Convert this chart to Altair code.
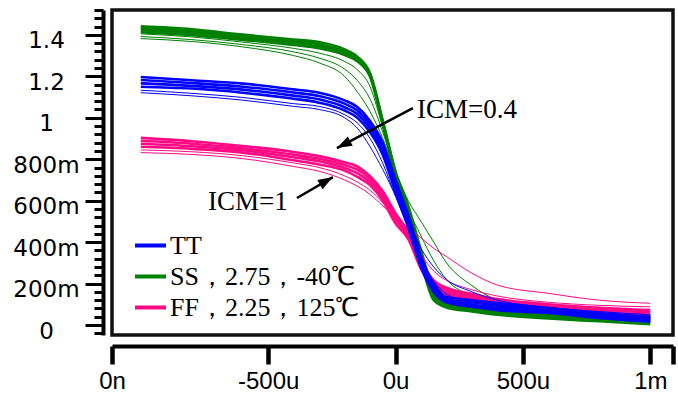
import altair as alt
import pandas as pd

# ---------------- data ----------------
X_U = [-1000, -800, -600, -400, -300, -200, -150, -100, -50, 0, 50, 100, 150, 200, 300, 400, 600, 800, 1000]

SERIES = ["TT", "SS，2.75，-40℃", "FF，2.25，125℃"]
COLORS = ["#0000ff", "#008000", "#ff0a84"]

# SS corner
SS_BAND = [
    [1.441, 1.427, 1.401, 1.378, 1.365, 1.330, 1.295, 1.215, 0.985, 0.740, 0.575, 0.360, 0.170, 0.115, 0.096, 0.082, 0.064, 0.050, 0.040],
    [1.432, 1.418, 1.393, 1.369, 1.355, 1.320, 1.288, 1.210, 0.980, 0.735, 0.545, 0.335, 0.150, 0.100, 0.085, 0.070, 0.052, 0.038, 0.028],
    [1.423, 1.409, 1.385, 1.360, 1.345, 1.312, 1.282, 1.205, 0.975, 0.728, 0.520, 0.315, 0.135, 0.092, 0.075, 0.060, 0.042, 0.028, 0.016],
    [1.413, 1.399, 1.376, 1.351, 1.335, 1.303, 1.273, 1.198, 0.968, 0.720, 0.500, 0.300, 0.120, 0.085, 0.066, 0.050, 0.032, 0.018, 0.004],
]
SS_SPREAD = [
    [1.405, 1.390, 1.365, 1.335, 1.312, 1.272, 1.232, 1.150, 0.950, 0.720, 0.525, 0.340, 0.190, 0.130, 0.090, 0.072, 0.055, 0.044, 0.035],
    [1.392, 1.377, 1.353, 1.318, 1.288, 1.235, 1.180, 1.090, 0.930, 0.735, 0.560, 0.430, 0.310, 0.220, 0.140, 0.100, 0.065, 0.052, 0.043],
    [1.382, 1.368, 1.342, 1.300, 1.265, 1.200, 1.125, 1.030, 0.900, 0.740, 0.600, 0.500, 0.400, 0.300, 0.190, 0.120, 0.075, 0.058, 0.047],
]

# TT corner
TT_BAND = [
    [1.197, 1.181, 1.165, 1.137, 1.121, 1.084, 1.052, 0.985, 0.880, 0.700, 0.530, 0.330, 0.200, 0.135, 0.120, 0.106, 0.082, 0.058, 0.040],
    [1.182, 1.168, 1.150, 1.122, 1.105, 1.068, 1.035, 0.968, 0.860, 0.680, 0.510, 0.312, 0.185, 0.125, 0.110, 0.095, 0.074, 0.050, 0.032],
    [1.166, 1.154, 1.136, 1.107, 1.089, 1.051, 1.018, 0.950, 0.840, 0.660, 0.490, 0.295, 0.172, 0.117, 0.099, 0.083, 0.066, 0.042, 0.024],
    [1.150, 1.141, 1.121, 1.092, 1.073, 1.035, 1.000, 0.930, 0.820, 0.640, 0.470, 0.280, 0.160, 0.110, 0.088, 0.072, 0.058, 0.034, 0.016],
]
TT_SPREAD = [
    [1.133, 1.118, 1.098, 1.068, 1.055, 1.015, 0.975, 0.900, 0.780, 0.620, 0.470, 0.310, 0.210, 0.150, 0.110, 0.090, 0.068, 0.048, 0.032],
    [1.121, 1.106, 1.085, 1.055, 1.040, 1.000, 0.950, 0.860, 0.750, 0.625, 0.500, 0.370, 0.280, 0.220, 0.160, 0.120, 0.085, 0.065, 0.050],
]

# FF corner
FF_BAND = [
    [0.903, 0.887, 0.864, 0.835, 0.815, 0.785, 0.765, 0.718, 0.645, 0.540, 0.450, 0.310, 0.215, 0.180, 0.150, 0.125, 0.100, 0.083, 0.072],
    [0.889, 0.875, 0.853, 0.822, 0.802, 0.772, 0.750, 0.705, 0.630, 0.525, 0.437, 0.295, 0.203, 0.168, 0.140, 0.115, 0.090, 0.072, 0.062],
    [0.875, 0.863, 0.843, 0.810, 0.790, 0.758, 0.733, 0.690, 0.615, 0.510, 0.425, 0.282, 0.188, 0.156, 0.130, 0.105, 0.080, 0.060, 0.051],
    [0.860, 0.850, 0.832, 0.795, 0.775, 0.745, 0.715, 0.675, 0.600, 0.490, 0.415, 0.270, 0.175, 0.145, 0.120, 0.096, 0.069, 0.048, 0.040],
]
FF_SPREAD = [
    [0.845, 0.836, 0.817, 0.782, 0.760, 0.720, 0.690, 0.650, 0.590, 0.510, 0.440, 0.340, 0.260, 0.215, 0.170, 0.140, 0.110, 0.095, 0.088],
    [0.832, 0.823, 0.803, 0.765, 0.742, 0.700, 0.670, 0.630, 0.575, 0.520, 0.470, 0.420, 0.370, 0.330, 0.250, 0.193, 0.153, 0.120, 0.105],
]

# axis ticks and labels
X_TICK_VALUES = [-1113, -500, 0, 500, 1000, 1089]
X_TICK_LABELS = ["0n", "-500u", "0u", "500u", "1m", ""]
Y_TICK_VALUES = [0, 0.2, 0.4, 0.6, 0.8, 1.0, 1.2, 1.4]
Y_TICK_LABELS = ["0", "200m", "400m", "600m", "800m", "1", "1.2", "1.4"]
Y_MINOR = [round(-0.04 + 0.04 * i, 2) for i in range(40)]

# annotations
ANN_TEXT = ["ICM=0.4", "ICM=1"]
ANN_TEXT_U = [84, -736]
ANN_TEXT_V = [0.999, 0.555]
ARROW_TAIL_U = [68, -387]
ARROW_TAIL_V = [1.047, 0.613]
ARROW_TIP_U = [-230, -246]
ARROW_TIP_V = [0.854, 0.714]
ARROW_ANGLE = [242.5, 59.7]

# ---------------- build table ----------------
groups = {
    SERIES[0]: (TT_BAND, TT_SPREAD),
    SERIES[1]: (SS_BAND, SS_SPREAD),
    SERIES[2]: (FF_BAND, FF_SPREAD),
}
rows = []
for s, (band, spread) in groups.items():
    for kind, lines in (("band", band), ("spread", spread)):
        for i, vals in enumerate(lines):
            for u, v in zip(X_U, vals):
                rows.append({"series": s, "kind": kind, "line": f"{s}-{kind}-{i}", "u": u, "v": v})
df = pd.DataFrame(rows)

ann = pd.DataFrame({"text": ANN_TEXT, "u": ANN_TEXT_U, "v": ANN_TEXT_V})
arrows = pd.DataFrame({
    "u": ARROW_TAIL_U, "v": ARROW_TAIL_V,
    "u2": ARROW_TIP_U, "v2": ARROW_TIP_V,
})


def label_expr(values, labels, tol):
    parts = []
    for val, lab in zip(values, labels):
        parts.append(f"abs(datum.value - ({val})) < {tol} ? '{lab}' : ")
    return "".join(parts) + "''"


x_scale = alt.Scale(domain=[-1113, 1089], nice=False, zero=False)
y_scale = alt.Scale(domain=[-0.048, 1.52], nice=False, zero=False)

x_axis = alt.Axis(
    values=X_TICK_VALUES,
    labelExpr=label_expr(X_TICK_VALUES, X_TICK_LABELS, 1),
    tickSize=18, tickWidth=4.5, tickColor="black",
    domainWidth=4, domainColor="black",
    offset=11, grid=False,
    labelFont="Liberation Sans", labelFontSize=24, labelColor="black",
    labelPadding=5, labelBaseline="top", labelAlign="center",
    labelFlush=False, labelOverlap=False,
)
y_axis = alt.Axis(
    values=Y_MINOR,
    labelExpr=label_expr(Y_TICK_VALUES, Y_TICK_LABELS, 0.001),
    tickSize={"condition": {"test": "abs(datum.value*5 - round(datum.value*5)) < 0.001", "value": 18}, "value": 9},
    tickWidth=3, tickColor="black",
    domainWidth=4, domainColor="black",
    offset=9, grid=False,
    labelFont="DejaVu Sans", labelFontSize=23, labelColor="black",
    labelPadding=39, labelAlign="center", labelBaseline="middle", labelOffset=6,
    labelFlush=False, labelOverlap=False,
)

legend = alt.Legend(
    title=None, orient="none", legendX=21, legendY=218,
    symbolType="stroke", symbolSize=961, symbolStrokeWidth=4,
    labelFont="Liberation Serif", labelFontSize=26, labelColor="black",
    labelOffset=2, rowPadding=0, padding=0, labelLimit=400,
)

color = alt.Color("series:N", scale=alt.Scale(domain=SERIES, range=COLORS), legend=legend)
X = alt.X("u:Q", scale=x_scale, axis=x_axis, title=None)
Y = alt.Y("v:Q", scale=y_scale, axis=y_axis, title=None)

layers = []
for s in [SERIES[1], SERIES[2], SERIES[0]]:
    sub = df[df["series"] == s]
    spread = alt.Chart(sub[sub["kind"] == "spread"]).mark_line(
        strokeWidth=1.0, interpolate="monotone"
    ).encode(x=X, y=Y, color=color, detail="line:N")
    band = alt.Chart(sub[sub["kind"] == "band"]).mark_line(
        strokeWidth=2.6, interpolate="monotone"
    ).encode(x=X, y=Y, color=color, detail="line:N")
    layers += [spread, band]

rule = alt.Chart(arrows).mark_rule(color="black", strokeWidth=2.5).encode(
    x=X, y=Y, x2="u2:Q", y2="v2:Q"
)
layers.append(rule)
for i in range(len(ARROW_TIP_U)):
    head = alt.Chart(arrows.iloc[[i]]).mark_point(
        shape="M0,0L-0.7,2L0.7,2Z", filled=True, color="black", opacity=1,
        size=225, angle=ARROW_ANGLE[i], strokeWidth=0,
    ).encode(x=alt.X("u2:Q", scale=x_scale, axis=x_axis, title=None),
             y=alt.Y("v2:Q", scale=y_scale, axis=y_axis, title=None))
    layers.append(head)

text = alt.Chart(ann).mark_text(
    font="Liberation Serif", fontSize=27, color="black", align="left", baseline="alphabetic"
).encode(x=X, y=Y, text="text:N")
layers.append(text)

chart = alt.layer(*layers).properties(
    width=561, height=325,
    autosize="none",
    padding={"left": 112, "top": 10, "right": 5, "bottom": 63},
    background="white",
).configure_view(stroke="#111111", strokeWidth=3.5)

chart.save("out.html", embed_options={"renderer": "svg", "actions": False})
